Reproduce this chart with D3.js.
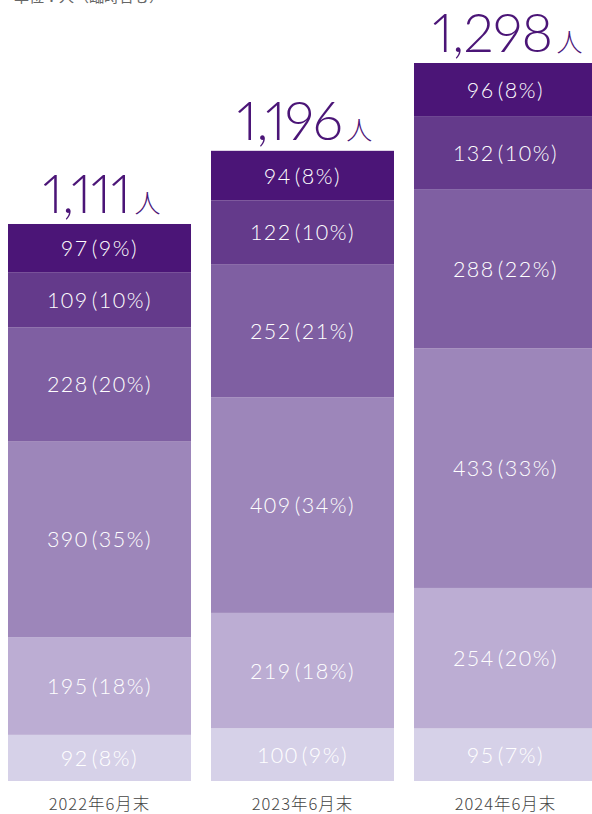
<!DOCTYPE html>
<html><head><meta charset="utf-8">
<script src="https://cdn.jsdelivr.net/npm/d3@7"></script>
<style>
html,body{margin:0;padding:0;background:#fff;}
svg{display:block;}
</style></head>
<body>
<svg id="chart" width="592" height="814"></svg>
<script>
const categories = ["2022年6月末", "2023年6月末", "2024年6月末"];
// segments bottom -> top
const seg1 = [92, 100, 95];
const seg2 = [195, 219, 254];
const seg3 = [390, 409, 433];
const seg4 = [228, 252, 288];
const seg5 = [109, 122, 132];
const seg6 = [97, 94, 96];
const pct1 = [8, 9, 7];
const pct2 = [18, 18, 20];
const pct3 = [35, 34, 33];
const pct4 = [20, 21, 22];
const pct5 = [10, 10, 10];
const pct6 = [9, 8, 8];
const totals = [1111, 1196, 1298];
const unitLabel = "単位：人（臨時含む）";

const colors = ["#d6d1e8", "#bcadd3", "#9d86ba", "#7f5fa2", "#643a8b", "#4b1577"];
const series = [seg1, seg2, seg3, seg4, seg5, seg6];
const pcts = [pct1, pct2, pct3, pct4, pct5, pct6];

const svg = d3.select("#chart");
const bottom = 781;
const font = "Lato, 'Noto Sans CJK JP', sans-serif";

const x = d3.scaleBand().domain(categories).range([8, 597]).paddingInner(0.0985).paddingOuter(0);
const yTotal = d3.scaleLinear().domain([464, 1298]).range([bottom, 63]);

svg.append("text").attr("x", 14).attr("y", 2)
  .attr("font-family", "'Noto Sans CJK JP', sans-serif").attr("font-size", 15)
  .attr("fill", "#666").text(unitLabel);

categories.forEach((c, i) => {
  const total = totals[i];
  const cx = x(c) + x.bandwidth() / 2;
  const yIn = d3.scaleLinear().domain([0, total]).range([bottom, yTotal(total)]);
  let acc = 0;
  const g = svg.append("g");
  series.forEach((s, k) => {
    const v = s[i];
    const y0 = yIn(acc), y1 = yIn(acc + v);
    g.append("rect").attr("x", x(c)).attr("width", x.bandwidth())
      .attr("y", y1).attr("height", y0 - y1).attr("fill", colors[k]);
    const t = g.append("text").attr("x", cx).attr("y", (y0 + y1) / 2 + 8)
      .attr("text-anchor", "middle").attr("fill", "#fff")
      .attr("font-family", font).attr("font-size", 21.5).attr("font-weight", 300)
      .attr("letter-spacing", 1.5);
    t.append("tspan").text(v);
    t.append("tspan").attr("dx", 3).text("(" + pcts[k][i] + "%)");
    acc += v;
  });
  const t = svg.append("text").attr("x", cx + 2).attr("y", yTotal(total) - 11)
    .attr("text-anchor", "middle").attr("fill", "#4b1577").attr("font-family", font)
    .style("font-variant-numeric", "proportional-nums");
  t.append("tspan").attr("font-size", 54).attr("font-weight", 300).attr("letter-spacing", -0.5).text(d3.format(",")(total));
  t.append("tspan").attr("font-size", 26).attr("dx", 4).attr("font-family", "'Noto Sans CJK JP', sans-serif").attr("font-weight", 300).text("人");
  svg.append("text").attr("x", cx).attr("y", 810)
    .attr("text-anchor", "middle").attr("fill", "#444")
    .attr("font-family", "'Noto Sans CJK JP', sans-serif").attr("font-size", 16.5)
    .attr("font-weight", 300)
    .attr("letter-spacing", 1)
    .text(c);
});
</script>
</body></html>
